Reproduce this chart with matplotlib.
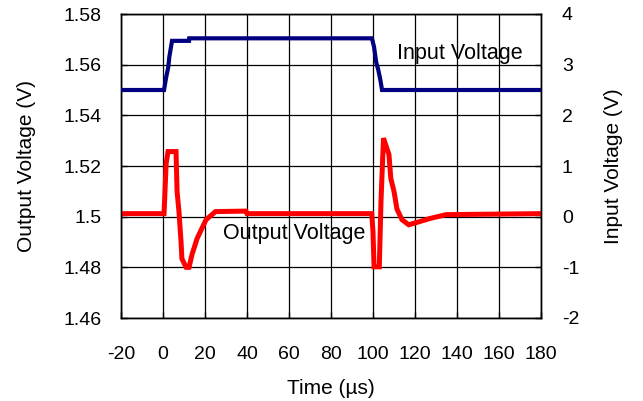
import numpy as np
import matplotlib.pyplot as plt
from matplotlib.ticker import FuncFormatter

plt.rcParams['font.family'] = ['Liberation Sans', 'DejaVu Sans']
plt.rcParams['axes.unicode_minus'] = False

# input voltage step (V) vs time (us)
t_in = [-20, 0.5, 1.5, 2.5, 3.0, 4.3, 8, 12.4, 12.5, 99.5, 100.5, 101.5, 102.5, 103.5, 104.3, 180]
v_in = [2.5, 2.5, 2.75, 2.95, 3.15, 3.47, 3.47, 3.47, 3.52, 3.52, 3.35, 3.05, 2.9, 2.7, 2.5, 2.5]

# output voltage response (V) vs time (us)
t_out = [-20, 0.5, 1.5, 2.4, 6.2, 6.7, 7.6, 8.6, 9.0, 11, 12.4, 13.8, 16.2, 20.5, 25,
         39.5, 40, 99.4, 100.0, 100.5, 103, 103.8, 104.3, 105, 107.6, 108.5,
         110, 111.4, 113.8, 117, 122, 126.7, 134.8, 180]
v_out = [1.5012, 1.5012, 1.521, 1.5257, 1.5257, 1.51, 1.502, 1.490, 1.4834, 1.480, 1.480,
         1.485, 1.4913, 1.4988, 1.502, 1.5022, 1.5012, 1.5012, 1.494, 1.4802, 1.4802,
         1.5059, 1.5166, 1.531, 1.5245, 1.515, 1.510, 1.503, 1.4988, 1.4968, 1.498,
         1.4992, 1.5008, 1.5012]

fig = plt.figure(figsize=(6.43, 4.01), dpi=100)
ax = fig.add_axes([121 / 643, 1 - 318 / 401, 420 / 643, 304 / 401])
ax2 = ax.twinx()

ax.plot(t_out, v_out, color='#ff0000', lw=3.6, solid_joinstyle='miter', zorder=3)
ax2.plot(t_in, v_in, color='#000080', lw=3.0, solid_joinstyle='miter', zorder=3)

ax.set_xlim(-20, 180)
ax.set_ylim(1.46, 1.58)
ax2.set_ylim(-2, 4)
ax.set_xticks(np.arange(-20, 181, 20))
ax.set_yticks(np.arange(1.46, 1.581, 0.02))
ax2.set_yticks(np.arange(-2, 5, 1))
ax.yaxis.set_major_formatter(FuncFormatter(lambda v, p: f'{v:g}'))

ax.grid(True, color='black', lw=0.9)
for a in (ax, ax2):
    for s in a.spines.values():
        s.set_color('black')
        s.set_linewidth(1.0)
    a.tick_params(direction='in', length=4, width=1, labelsize=14)
ax.tick_params(axis='y', pad=14)
ax.tick_params(axis='x', pad=20)
ax2.tick_params(axis='y', pad=15)

ax.set_xlabel('Time (µs)', fontsize=15, labelpad=12)
ax.set_ylabel('Output Voltage (V)', fontsize=15, labelpad=20)
ax2.set_ylabel('Input Voltage (V)', fontsize=15, labelpad=18)

ax.text(62.4, 1.4933, 'Output Voltage', fontsize=15.5, ha='center', va='center', zorder=4)
ax2.text(141.4, 3.22, 'Input Voltage', fontsize=15.5, ha='center', va='center')

fig.savefig('out.png', dpi=100)
